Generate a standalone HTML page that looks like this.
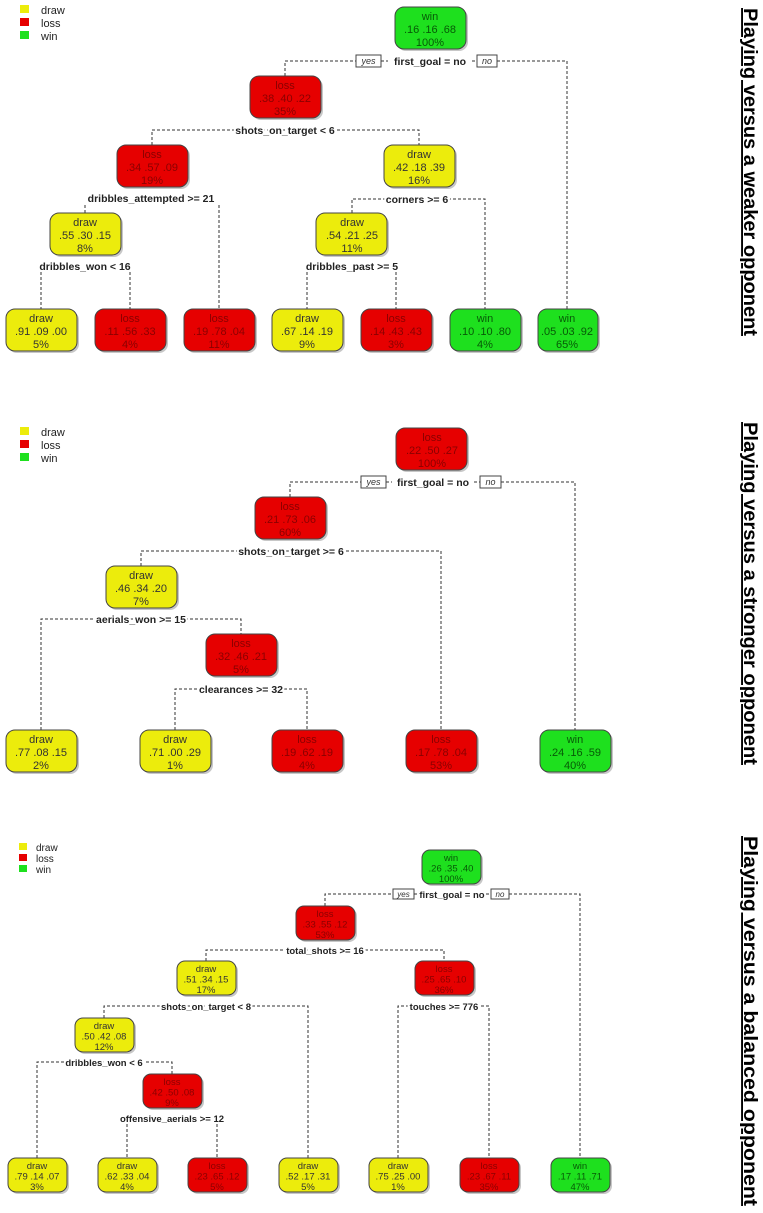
<!DOCTYPE html>
<html><head><meta charset="utf-8"><style>
html,body{margin:0;padding:0;background:#fff;}
svg{display:block;}
.n{font-family:"Liberation Sans",sans-serif;font-size:11px;text-anchor:middle;}
.s{font-family:"Liberation Sans",sans-serif;font-size:9.5px;text-anchor:middle;}
.lb{font-family:"Liberation Sans",sans-serif;font-size:10.5px;font-weight:bold;text-anchor:middle;fill:#222;paint-order:stroke;stroke:#fff;stroke-width:4px;}
.lb3{font-family:"Liberation Sans",sans-serif;font-size:9.5px;font-weight:bold;text-anchor:middle;fill:#222;paint-order:stroke;stroke:#fff;stroke-width:4px;}
.d{stroke:#333;stroke-width:1;stroke-dasharray:3,2;fill:none;}
.y{fill:#ecec0c;stroke:#444;}
.r{fill:#e60000;stroke:#444;}
.g{fill:#1ee01e;stroke:#444;}
.sh{fill:#999;opacity:.55;}
.ty{fill:#333;} .tr{fill:#8a0000;} .tg{fill:#075a07;}
.leg{font-family:"Liberation Sans",sans-serif;font-size:11px;fill:#222;}
.yn{font-family:"Liberation Sans",sans-serif;font-size:9px;font-style:italic;text-anchor:middle;fill:#333;}
.title{font-family:"Liberation Sans",sans-serif;font-size:19px;font-weight:bold;text-decoration:underline;fill:#000;}
</style></head><body>
<svg width="763" height="1213" viewBox="0 0 763 1213" xmlns="http://www.w3.org/2000/svg">

<!-- ============ PANEL 1 ============ -->
<rect x="20" y="5" width="9" height="8" fill="#ecec0c"/><text class="leg" x="41" y="14">draw</text>
<rect x="20" y="18" width="9" height="8" fill="#e60000"/><text class="leg" x="41" y="27">loss</text>
<rect x="20" y="31" width="9" height="8" fill="#1ee01e"/><text class="leg" x="41" y="40">win</text>

<path class="d" d="M285 76V61H356M381 61H388M472 61H477M497 61H567V309"/>
<path class="d" d="M152 145V130H419V145"/>
<path class="d" d="M85 205V213M219 205V309"/>
<path class="d" d="M352 213V199H485V309"/>
<path class="d" d="M41 272V309M130 272V309"/>
<path class="d" d="M307 272V309M396 272V309"/>
<rect x="356" y="55" width="25" height="12" fill="#fff" stroke="#444"/><text class="yn" x="368.5" y="64">yes</text>
<rect x="477" y="55" width="20" height="12" fill="#fff" stroke="#444"/><text class="yn" x="487" y="64">no</text>
<text class="lb" x="430" y="65">first_goal = no</text>
<text class="lb" x="285" y="134">shots_on_target &lt; 6</text>
<text class="lb" x="151" y="202">dribbles_attempted &gt;= 21</text>
<text class="lb" x="417" y="203">corners &gt;= 6</text>
<text class="lb" x="85" y="270">dribbles_won &lt; 16</text>
<text class="lb" x="352" y="270">dribbles_past &gt;= 5</text>

<g>
<rect class="sh" x="397" y="9" width="71" height="42" rx="9"/><rect class="g" x="395" y="7" width="71" height="42" rx="9"/>
<text class="n tg" x="430" y="20">win</text><text class="n tg" x="430" y="33">.16  .16  .68</text><text class="n tg" x="430" y="46">100%</text>
<rect class="sh" x="252" y="78" width="71" height="42" rx="9"/><rect class="r" x="250" y="76" width="71" height="42" rx="9"/>
<text class="n tr" x="285" y="89">loss</text><text class="n tr" x="285" y="102">.38  .40  .22</text><text class="n tr" x="285" y="115">35%</text>
<rect class="sh" x="119" y="147" width="71" height="42" rx="9"/><rect class="r" x="117" y="145" width="71" height="42" rx="9"/>
<text class="n tr" x="152" y="158">loss</text><text class="n tr" x="152" y="171">.34  .57  .09</text><text class="n tr" x="152" y="184">19%</text>
<rect class="sh" x="386" y="147" width="71" height="42" rx="9"/><rect class="y" x="384" y="145" width="71" height="42" rx="9"/>
<text class="n ty" x="419" y="158">draw</text><text class="n ty" x="419" y="171">.42  .18  .39</text><text class="n ty" x="419" y="184">16%</text>
<rect class="sh" x="52" y="215" width="71" height="42" rx="9"/><rect class="y" x="50" y="213" width="71" height="42" rx="9"/>
<text class="n ty" x="85" y="226">draw</text><text class="n ty" x="85" y="239">.55  .30  .15</text><text class="n ty" x="85" y="252">8%</text>
<rect class="sh" x="318" y="215" width="71" height="42" rx="9"/><rect class="y" x="316" y="213" width="71" height="42" rx="9"/>
<text class="n ty" x="352" y="226">draw</text><text class="n ty" x="352" y="239">.54  .21  .25</text><text class="n ty" x="352" y="252">11%</text>
</g>
<g>
<rect class="sh" x="8" y="311" width="71" height="42" rx="9"/><rect class="y" x="6" y="309" width="71" height="42" rx="9"/>
<text class="n ty" x="41" y="322">draw</text><text class="n ty" x="41" y="335">.91  .09  .00</text><text class="n ty" x="41" y="348">5%</text>
<rect class="sh" x="97" y="311" width="71" height="42" rx="9"/><rect class="r" x="95" y="309" width="71" height="42" rx="9"/>
<text class="n tr" x="130" y="322">loss</text><text class="n tr" x="130" y="335">.11  .56  .33</text><text class="n tr" x="130" y="348">4%</text>
<rect class="sh" x="186" y="311" width="71" height="42" rx="9"/><rect class="r" x="184" y="309" width="71" height="42" rx="9"/>
<text class="n tr" x="219" y="322">loss</text><text class="n tr" x="219" y="335">.19  .78  .04</text><text class="n tr" x="219" y="348">11%</text>
<rect class="sh" x="274" y="311" width="71" height="42" rx="9"/><rect class="y" x="272" y="309" width="71" height="42" rx="9"/>
<text class="n ty" x="307" y="322">draw</text><text class="n ty" x="307" y="335">.67  .14  .19</text><text class="n ty" x="307" y="348">9%</text>
<rect class="sh" x="363" y="311" width="71" height="42" rx="9"/><rect class="r" x="361" y="309" width="71" height="42" rx="9"/>
<text class="n tr" x="396" y="322">loss</text><text class="n tr" x="396" y="335">.14  .43  .43</text><text class="n tr" x="396" y="348">3%</text>
<rect class="sh" x="452" y="311" width="71" height="42" rx="9"/><rect class="g" x="450" y="309" width="71" height="42" rx="9"/>
<text class="n tg" x="485" y="322">win</text><text class="n tg" x="485" y="335">.10  .10  .80</text><text class="n tg" x="485" y="348">4%</text>
<rect class="sh" x="540" y="311" width="60" height="42" rx="9"/><rect class="g" x="538" y="309" width="60" height="42" rx="9"/>
<text class="n tg" x="567" y="322">win</text><text class="n tg" x="567" y="335">.05  .03  .92</text><text class="n tg" x="567" y="348">65%</text>
</g>
<text class="title" transform="translate(744,8) rotate(90)" textLength="328" lengthAdjust="spacingAndGlyphs">Playing versus a weaker opponent</text>

<!-- ============ PANEL 2 ============ -->
<rect x="20" y="427" width="9" height="8" fill="#ecec0c"/><text class="leg" x="41" y="436">draw</text>
<rect x="20" y="440" width="9" height="8" fill="#e60000"/><text class="leg" x="41" y="449">loss</text>
<rect x="20" y="453" width="9" height="8" fill="#1ee01e"/><text class="leg" x="41" y="462">win</text>

<path class="d" d="M290 497V482H361M386 482H392M474 482H480M501 482H575V730"/>
<path class="d" d="M141 566V551H441V730"/>
<path class="d" d="M41 730V619H241V634"/>
<path class="d" d="M175 730V689H307V730"/>
<rect x="361" y="476" width="25" height="12" fill="#fff" stroke="#444"/><text class="yn" x="373.5" y="485">yes</text>
<rect x="480" y="476" width="21" height="12" fill="#fff" stroke="#444"/><text class="yn" x="490.5" y="485">no</text>
<text class="lb" x="433" y="486">first_goal = no</text>
<text class="lb" x="291" y="555">shots_on_target &gt;= 6</text>
<text class="lb" x="141" y="623">aerials_won &gt;= 15</text>
<text class="lb" x="241" y="693">clearances &gt;= 32</text>

<rect class="sh" x="398" y="430" width="71" height="42" rx="9"/><rect class="r" x="396" y="428" width="71" height="42" rx="9"/>
<text class="n tr" x="432" y="441">loss</text><text class="n tr" x="432" y="454">.22  .50  .27</text><text class="n tr" x="432" y="467">100%</text>
<rect class="sh" x="257" y="499" width="71" height="42" rx="9"/><rect class="r" x="255" y="497" width="71" height="42" rx="9"/>
<text class="n tr" x="290" y="510">loss</text><text class="n tr" x="290" y="523">.21  .73  .06</text><text class="n tr" x="290" y="536">60%</text>
<rect class="sh" x="108" y="568" width="71" height="42" rx="9"/><rect class="y" x="106" y="566" width="71" height="42" rx="9"/>
<text class="n ty" x="141" y="579">draw</text><text class="n ty" x="141" y="592">.46  .34  .20</text><text class="n ty" x="141" y="605">7%</text>
<rect class="sh" x="208" y="636" width="71" height="42" rx="9"/><rect class="r" x="206" y="634" width="71" height="42" rx="9"/>
<text class="n tr" x="241" y="647">loss</text><text class="n tr" x="241" y="660">.32  .46  .21</text><text class="n tr" x="241" y="673">5%</text>

<rect class="sh" x="8" y="732" width="71" height="42" rx="9"/><rect class="y" x="6" y="730" width="71" height="42" rx="9"/>
<text class="n ty" x="41" y="743">draw</text><text class="n ty" x="41" y="756">.77  .08  .15</text><text class="n ty" x="41" y="769">2%</text>
<rect class="sh" x="142" y="732" width="71" height="42" rx="9"/><rect class="y" x="140" y="730" width="71" height="42" rx="9"/>
<text class="n ty" x="175" y="743">draw</text><text class="n ty" x="175" y="756">.71  .00  .29</text><text class="n ty" x="175" y="769">1%</text>
<rect class="sh" x="274" y="732" width="71" height="42" rx="9"/><rect class="r" x="272" y="730" width="71" height="42" rx="9"/>
<text class="n tr" x="307" y="743">loss</text><text class="n tr" x="307" y="756">.19  .62  .19</text><text class="n tr" x="307" y="769">4%</text>
<rect class="sh" x="408" y="732" width="71" height="42" rx="9"/><rect class="r" x="406" y="730" width="71" height="42" rx="9"/>
<text class="n tr" x="441" y="743">loss</text><text class="n tr" x="441" y="756">.17  .78  .04</text><text class="n tr" x="441" y="769">53%</text>
<rect class="sh" x="542" y="732" width="71" height="42" rx="9"/><rect class="g" x="540" y="730" width="71" height="42" rx="9"/>
<text class="n tg" x="575" y="743">win</text><text class="n tg" x="575" y="756">.24  .16  .59</text><text class="n tg" x="575" y="769">40%</text>
<text class="title" transform="translate(744,422) rotate(90)" textLength="343" lengthAdjust="spacingAndGlyphs">Playing versus a stronger opponent</text>

<!-- ============ PANEL 3 ============ -->
<rect x="19" y="843" width="8" height="7" fill="#ecec0c"/><text class="leg" style="font-size:10px" x="36" y="851">draw</text>
<rect x="19" y="854" width="8" height="7" fill="#e60000"/><text class="leg" style="font-size:10px" x="36" y="862">loss</text>
<rect x="19" y="865" width="8" height="7" fill="#1ee01e"/><text class="leg" style="font-size:10px" x="36" y="873">win</text>

<path class="d" d="M325 906V894H393M414 894H418M486 894H491M509 894H580V1158"/>
<path class="d" d="M206 961V950H444V961"/>
<path class="d" d="M104 1018V1006H308V1158"/>
<path class="d" d="M398 1158V1006H489V1158"/>
<path class="d" d="M37 1158V1062H172V1074"/>
<path class="d" d="M127 1124V1158M217 1124V1158"/>
<rect x="393" y="889" width="21" height="10" fill="#fff" stroke="#444"/><text class="yn" style="font-size:8px" x="403.5" y="897">yes</text>
<rect x="491" y="889" width="18" height="10" fill="#fff" stroke="#444"/><text class="yn" style="font-size:8px" x="500" y="897">no</text>
<text class="lb3" x="452" y="898">first_goal = no</text>
<text class="lb3" x="325" y="954">total_shots &gt;= 16</text>
<text class="lb3" x="206" y="1010">shots_on_target &lt; 8</text>
<text class="lb3" x="444" y="1010">touches &gt;= 776</text>
<text class="lb3" x="104" y="1066">dribbles_won &lt; 6</text>
<text class="lb3" x="172" y="1122">offensive_aerials &gt;= 12</text>

<rect class="sh" x="424" y="852" width="59" height="34" rx="8"/><rect class="g" x="422" y="850" width="59" height="34" rx="8"/>
<text class="s tg" x="451" y="861">win</text><text class="s tg" x="451" y="871.5">.26  .35  .40</text><text class="s tg" x="451" y="882">100%</text>
<rect class="sh" x="298" y="908" width="59" height="34" rx="8"/><rect class="r" x="296" y="906" width="59" height="34" rx="8"/>
<text class="s tr" x="325" y="917">loss</text><text class="s tr" x="325" y="927.5">.33  .55  .12</text><text class="s tr" x="325" y="938">53%</text>
<rect class="sh" x="179" y="963" width="59" height="34" rx="8"/><rect class="y" x="177" y="961" width="59" height="34" rx="8"/>
<text class="s ty" x="206" y="972">draw</text><text class="s ty" x="206" y="982.5">.51  .34  .15</text><text class="s ty" x="206" y="993">17%</text>
<rect class="sh" x="417" y="963" width="59" height="34" rx="8"/><rect class="r" x="415" y="961" width="59" height="34" rx="8"/>
<text class="s tr" x="444" y="972">loss</text><text class="s tr" x="444" y="982.5">.25  .65  .10</text><text class="s tr" x="444" y="993">36%</text>
<rect class="sh" x="77" y="1020" width="59" height="34" rx="8"/><rect class="y" x="75" y="1018" width="59" height="34" rx="8"/>
<text class="s ty" x="104" y="1029">draw</text><text class="s ty" x="104" y="1039.5">.50  .42  .08</text><text class="s ty" x="104" y="1050">12%</text>
<rect class="sh" x="145" y="1076" width="59" height="34" rx="8"/><rect class="r" x="143" y="1074" width="59" height="34" rx="8"/>
<text class="s tr" x="172" y="1085">loss</text><text class="s tr" x="172" y="1095.5">.42  .50  .08</text><text class="s tr" x="172" y="1106">9%</text>

<rect class="sh" x="10" y="1160" width="59" height="34" rx="8"/><rect class="y" x="8" y="1158" width="59" height="34" rx="8"/>
<text class="s ty" x="37" y="1169">draw</text><text class="s ty" x="37" y="1179.5">.79  .14  .07</text><text class="s ty" x="37" y="1190">3%</text>
<rect class="sh" x="100" y="1160" width="59" height="34" rx="8"/><rect class="y" x="98" y="1158" width="59" height="34" rx="8"/>
<text class="s ty" x="127" y="1169">draw</text><text class="s ty" x="127" y="1179.5">.62  .33  .04</text><text class="s ty" x="127" y="1190">4%</text>
<rect class="sh" x="190" y="1160" width="59" height="34" rx="8"/><rect class="r" x="188" y="1158" width="59" height="34" rx="8"/>
<text class="s tr" x="217" y="1169">loss</text><text class="s tr" x="217" y="1179.5">.23  .65  .12</text><text class="s tr" x="217" y="1190">5%</text>
<rect class="sh" x="281" y="1160" width="59" height="34" rx="8"/><rect class="y" x="279" y="1158" width="59" height="34" rx="8"/>
<text class="s ty" x="308" y="1169">draw</text><text class="s ty" x="308" y="1179.5">.52  .17  .31</text><text class="s ty" x="308" y="1190">5%</text>
<rect class="sh" x="371" y="1160" width="59" height="34" rx="8"/><rect class="y" x="369" y="1158" width="59" height="34" rx="8"/>
<text class="s ty" x="398" y="1169">draw</text><text class="s ty" x="398" y="1179.5">.75  .25  .00</text><text class="s ty" x="398" y="1190">1%</text>
<rect class="sh" x="462" y="1160" width="59" height="34" rx="8"/><rect class="r" x="460" y="1158" width="59" height="34" rx="8"/>
<text class="s tr" x="489" y="1169">loss</text><text class="s tr" x="489" y="1179.5">.23  .67  .11</text><text class="s tr" x="489" y="1190">35%</text>
<rect class="sh" x="553" y="1160" width="59" height="34" rx="8"/><rect class="g" x="551" y="1158" width="59" height="34" rx="8"/>
<text class="s tg" x="580" y="1169">win</text><text class="s tg" x="580" y="1179.5">.17  .11  .71</text><text class="s tg" x="580" y="1190">47%</text>
<text class="title" transform="translate(744,836) rotate(90)" textLength="370" lengthAdjust="spacingAndGlyphs">Playing versus a balanced opponent</text>
</svg>
</body></html>
